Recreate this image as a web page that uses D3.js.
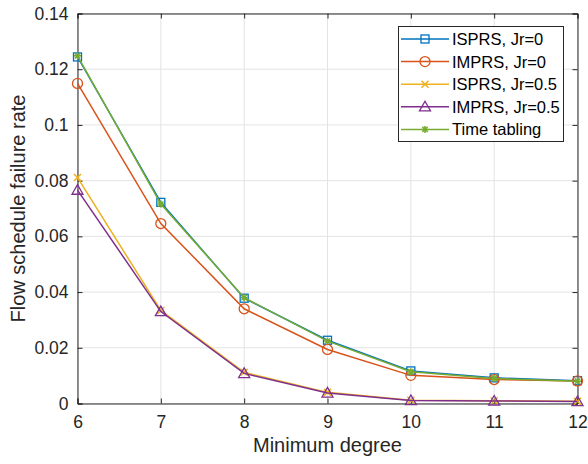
<!DOCTYPE html>
<html>
<head>
<meta charset="utf-8">
<script src="https://cdn.jsdelivr.net/npm/d3@7/dist/d3.min.js"></script>
<style>
  html, body { margin: 0; padding: 0; background: #fff; }
  svg { display: block; font-family: "Liberation Sans", Arial, sans-serif; }
</style>
</head>
<body>
<svg id="chart" width="588" height="464"></svg>
<script>
// Minimum degree values on the x axis
const degrees = [6, 7, 8, 9, 10, 11, 12];

// Flow schedule failure rate for each scheme
const isprsJr0  = [0.1244, 0.0722, 0.0378, 0.0227, 0.0117, 0.0092, 0.0082];
const imprsJr0  = [0.1149, 0.0646, 0.0340, 0.0194, 0.0101, 0.0086, 0.0081];
const isprsJr05 = [0.0811, 0.0334, 0.0112, 0.0040, 0.0012, 0.0010, 0.0008];
const imprsJr05 = [0.0766, 0.0330, 0.0108, 0.0038, 0.0011, 0.0009, 0.0007];
const timeTabling = [0.1248, 0.0716, 0.0380, 0.0224, 0.0114, 0.0090, 0.0080];

const seriesNames = ["ISPRS, Jr=0", "IMPRS, Jr=0", "ISPRS, Jr=0.5", "IMPRS, Jr=0.5", "Time tabling"];
const yTicks = [0, 0.02, 0.04, 0.06, 0.08, 0.1, 0.12, 0.14];
const yTickLabels = ["0", "0.02", "0.04", "0.06", "0.08", "0.1", "0.12", "0.14"];

const series = [
  { name: seriesNames[0], values: isprsJr0,   color: "#0072BD", marker: "square" },
  { name: seriesNames[1], values: imprsJr0,   color: "#D95319", marker: "circle" },
  { name: seriesNames[2], values: isprsJr05,  color: "#EDB120", marker: "x" },
  { name: seriesNames[3], values: imprsJr05,  color: "#7E2F8E", marker: "triangle" },
  { name: seriesNames[4], values: timeTabling, color: "#77AC30", marker: "asterisk" }
];

const svg = d3.select("#chart");
const L = 77.5, R = 577.5, T = 13.5, B = 403.5;

const x = d3.scaleLinear().domain([6, 12]).range([L, R]);
const y = d3.scaleLinear().domain([0, 0.14]).range([B, T]);

// Grid
const grid = svg.append("g").attr("stroke", "#e3e3e3").attr("stroke-width", 1);
degrees.forEach(d => grid.append("line")
  .attr("x1", x(d)).attr("x2", x(d)).attr("y1", T).attr("y2", B));
yTicks.forEach(v => grid.append("line")
  .attr("x1", L).attr("x2", R).attr("y1", y(v)).attr("y2", y(v)));

// Axes (ticks inward, box on all sides)
const axisColor = "#262626";
const tickLen = 5;
const xAxis = svg.append("g").attr("transform", `translate(0,${B})`)
  .call(d3.axisBottom(x).tickValues(degrees).tickSize(-tickLen).tickPadding(12).tickFormat(d3.format("d")));
const xAxisTop = svg.append("g").attr("transform", `translate(0,${T})`)
  .call(d3.axisTop(x).tickValues(degrees).tickSize(-tickLen).tickFormat(""));
const yAxis = svg.append("g").attr("transform", `translate(${L},0)`)
  .call(d3.axisLeft(y).tickValues(yTicks).tickSize(-tickLen).tickPadding(9)
    .tickFormat((d, i) => yTickLabels[i]));
const yAxisRight = svg.append("g").attr("transform", `translate(${R},0)`)
  .call(d3.axisRight(y).tickValues(yTicks).tickSize(-tickLen).tickFormat(""));

[xAxis, xAxisTop, yAxis, yAxisRight].forEach(g => {
  g.select(".domain").attr("stroke", axisColor).attr("stroke-width", 1);
  g.selectAll(".tick line").attr("stroke", axisColor);
  g.selectAll("text").attr("fill", "#262626").attr("font-size", "17.5px")
    .attr("font-family", "Liberation Sans, Arial, sans-serif");
});

// Axis titles
svg.append("text").attr("x", (L + R) / 2).attr("y", 452)
  .attr("text-anchor", "middle").attr("font-size", "20px").attr("fill", "#262626")
  .text("Minimum degree");
svg.append("text")
  .attr("transform", `translate(25,${(T + B) / 2}) rotate(-90)`)
  .attr("text-anchor", "middle").attr("font-size", "20px").attr("fill", "#262626")
  .text("Flow schedule failure rate");

// Marker shapes
function drawMarker(g, type, cx, cy, color) {
  const s = 4;
  if (type === "square") {
    g.append("rect").attr("x", cx - s).attr("y", cy - s).attr("width", 2 * s).attr("height", 2 * s)
      .attr("fill", "none").attr("stroke", color).attr("stroke-width", 1.3);
  } else if (type === "circle") {
    g.append("circle").attr("cx", cx).attr("cy", cy).attr("r", 5)
      .attr("fill", "none").attr("stroke", color).attr("stroke-width", 1.3);
  } else if (type === "x") {
    const a = 3.5;
    g.append("path").attr("d", `M${cx - a},${cy - a}L${cx + a},${cy + a}M${cx - a},${cy + a}L${cx + a},${cy - a}`)
      .attr("stroke", color).attr("stroke-width", 1.5);
  } else if (type === "triangle") {
    const h = 5.5;
    g.append("path").attr("d", `M${cx},${cy - h}L${cx + h},${cy + h * 0.75}L${cx - h},${cy + h * 0.75}Z`)
      .attr("fill", "none").attr("stroke", color).attr("stroke-width", 1.3);
  } else if (type === "asterisk") {
    const a = 3.5;
    g.append("path").attr("d",
      `M${cx - a},${cy}L${cx + a},${cy}M${cx},${cy - a}L${cx},${cy + a}` +
      `M${cx - a * 0.75},${cy - a * 0.75}L${cx + a * 0.75},${cy + a * 0.75}` +
      `M${cx - a * 0.75},${cy + a * 0.75}L${cx + a * 0.75},${cy - a * 0.75}`)
      .attr("stroke", color).attr("stroke-width", 1.5);
  }
}

// Lines and markers
const line = d3.line().x((d, i) => x(degrees[i])).y(d => y(d));
series.forEach(s => {
  const g = svg.append("g");
  g.append("path").datum(s.values).attr("d", line)
    .attr("fill", "none").attr("stroke", s.color).attr("stroke-width", 1.5);
  s.values.forEach((v, i) => drawMarker(g, s.marker, x(degrees[i]), y(v), s.color));
});

// Legend
const lg = svg.append("g");
lg.append("rect").attr("x", 398.5).attr("y", 26.5).attr("width", 165).attr("height", 115)
  .attr("fill", "#fff").attr("stroke", "#262626").attr("stroke-width", 1);
series.forEach((s, i) => {
  const cy = 39 + i * 22.6;
  lg.append("line").attr("x1", 401).attr("x2", 449).attr("y1", cy).attr("y2", cy)
    .attr("stroke", s.color).attr("stroke-width", 1.5);
  drawMarker(lg, s.marker, 425, cy, s.color);
  lg.append("text").attr("x", 452).attr("y", cy).attr("dy", "0.36em")
    .attr("font-size", "16.5px").attr("fill", "#000").text(s.name);
});
</script>
</body>
</html>
